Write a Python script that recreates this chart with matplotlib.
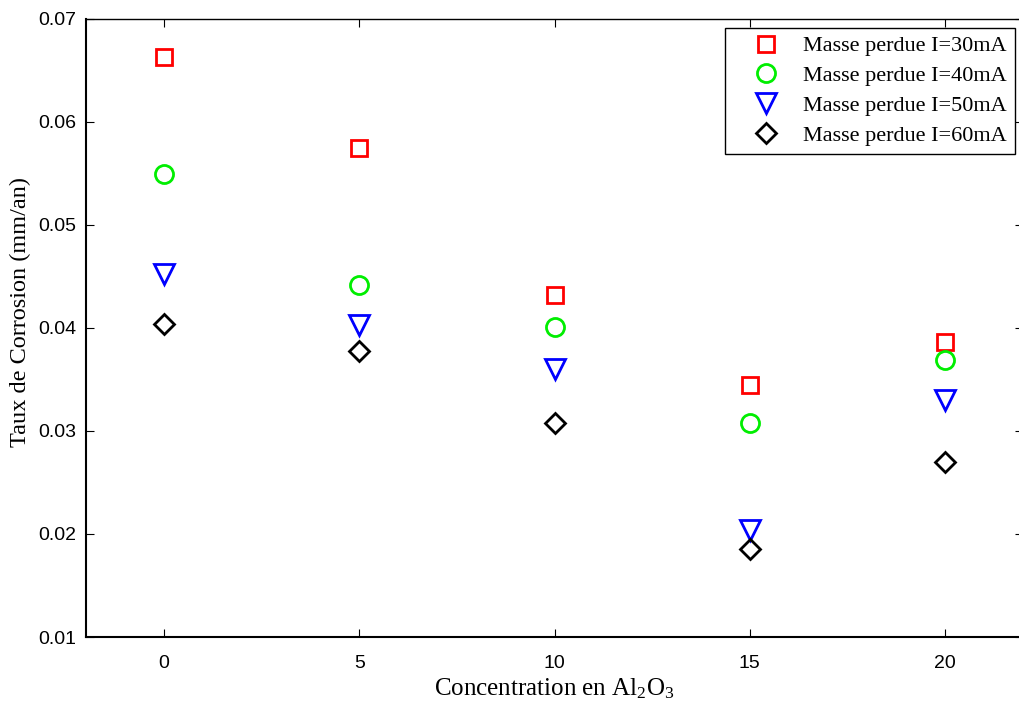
import numpy as np
import matplotlib.pyplot as plt

plt.rcParams['mathtext.fontset'] = 'custom'
plt.rcParams['mathtext.rm'] = 'Liberation Serif'
plt.rcParams['mathtext.it'] = 'Liberation Serif:italic'

conc = [0, 5, 10, 15, 20]
i30 = [0.0663, 0.0575, 0.0432, 0.0345, 0.0386]
i40 = [0.0549, 0.0442, 0.0401, 0.0308, 0.0369]
i50 = [0.0452, 0.0403, 0.0360, 0.0204, 0.0330]
i60 = [0.0404, 0.0378, 0.0308, 0.0185, 0.0270]
labels = ["Masse perdue I=30mA", "Masse perdue I=40mA",
          "Masse perdue I=50mA", "Masse perdue I=60mA"]

fig = plt.figure(figsize=(10.19, 7.07), dpi=100)
# right edge of the axes runs just past the figure, as in the original
ax = fig.add_axes([86 / 1019, 0.099, 937 / 1019, 0.8745])

ax.plot(conc, i30, 's', ms=11, mfc='none', mec='#ff0000', mew=2, label=labels[0])
ax.plot(conc, i40, 'o', ms=13, mfc='none', mec='#00ee00', mew=2, label=labels[1])
ax.plot(conc, i50, 'v', ms=15, mfc='none', mec='#0000ff', mew=2, label=labels[2])
ax.plot(conc, i60, 'D', ms=10, mfc='none', mec='black', mew=2, label=labels[3])

ax.set_xlim(-2, 22)
ax.set_ylim(0.01, 0.07)
ax.set_xticks(conc)
ax.set_yticks(np.arange(0.01, 0.0701, 0.01))
ax.yaxis.set_major_formatter(plt.FormatStrFormatter('%.2f'))
ax.tick_params(direction='in', top=True, right=True, length=6, width=0.8,
               labelsize=14)
ax.tick_params(axis='x', pad=13)
ax.tick_params(axis='y', pad=7)
for lab in ax.get_xticklabels() + ax.get_yticklabels():
    lab.set_family('Liberation Sans')
for s in ax.spines.values():
    s.set_linewidth(1.0)
ax.spines['left'].set_linewidth(1.5)
ax.spines['bottom'].set_linewidth(1.5)

ax.set_xlabel("Concentration en Al$_2$O$_3$", family='Liberation Serif', fontsize=18)
ax.xaxis.set_label_coords(0.5, -0.063)
ax.set_ylabel("Taux de Corrosion (mm/an)", family='Liberation Serif', fontsize=17.5)
ax.yaxis.set_label_coords(-0.059, 0.525)

leg = ax.legend(loc='upper right',
                prop={'family': 'Liberation Serif', 'size': 16},
                fancybox=False, edgecolor='black', framealpha=1,
                borderaxespad=0.0, handletextpad=0.15, labelspacing=0.42,
                borderpad=0.35, handlelength=3.05)
leg.set_bbox_to_anchor((0, 0, 1015 / 1019, 1 - 28 / 707), transform=fig.transFigure)
leg.get_frame().set_linewidth(1.0)

fig.savefig("out.png", dpi=100)
